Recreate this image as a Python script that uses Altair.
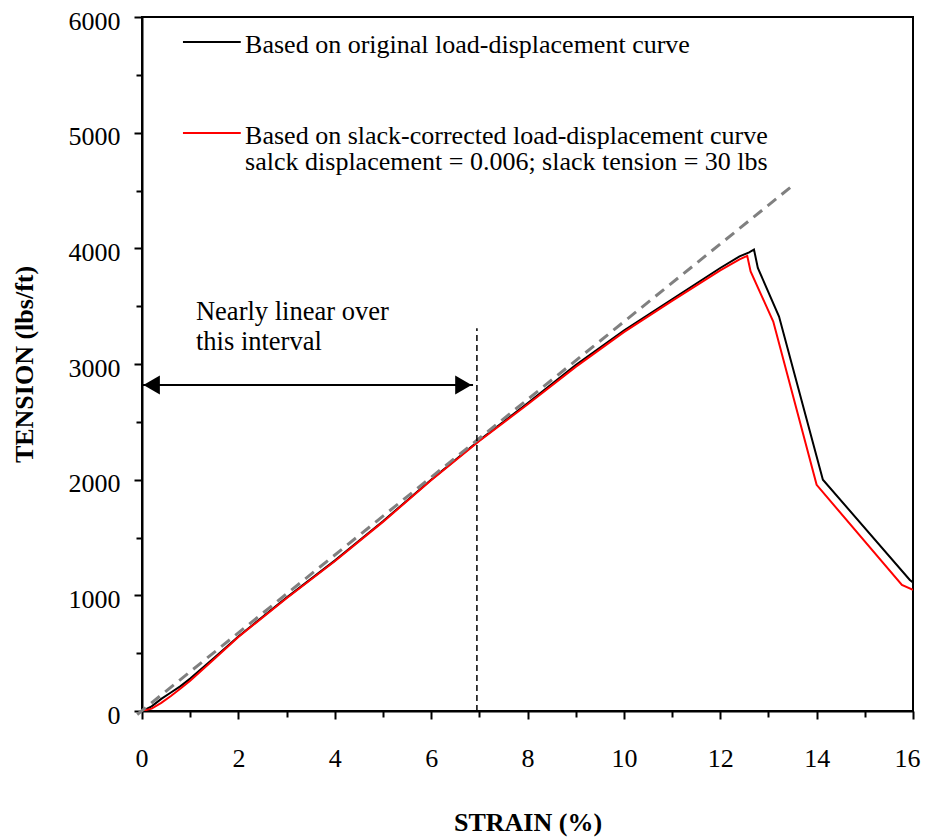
import altair as alt
import pandas as pd

# ---- data ----
orig_strain = [0, 0.2, 0.4, 0.6, 0.8, 1.0, 1.5, 2, 3, 4, 5, 6, 7, 8, 9, 10, 11, 12, 12.4, 12.6, 12.7, 12.78, 13.22, 14.13, 15.93, 16.0]
orig_tension = [0, 40, 105, 160, 215, 280, 460, 645, 980, 1300, 1640, 2000, 2340, 2660, 2990, 3290, 3560, 3830, 3930, 3965, 3990, 3830, 3410, 2000, 1135, 1110]

corr_strain = [0, 0.2, 0.4, 0.6, 0.8, 1.0, 1.5, 2, 3, 4, 5, 6, 7, 8, 9, 10, 11, 12, 12.4, 12.56, 12.63, 13.1, 14.0, 15.77, 16.0]
corr_tension = [0, 20, 70, 130, 195, 262, 450, 640, 975, 1295, 1635, 1995, 2335, 2650, 2975, 3275, 3545, 3810, 3905, 3935, 3800, 3367, 1955, 1090, 1047]

fit_strain = [-0.1, 13.45]
fit_tension = [-30, 4525]

limit_strain = [6.95, 6.95]
limit_tension = [0, 3310]

arrow_strain = [0.0, 6.87]
arrow_tension = [2818, 2818]

x_ticks = list(range(0, 17))
y_ticks = list(range(0, 6001, 500))

legend_line_x = [0.85, 2.05]
legend_rows = [
    {"label": "Based on original load-displacement curve", "y": 5758, "line_y": 5784, "color": "black"},
    {"label": "Based on slack-corrected load-displacement curve", "y": 4973, "line_y": 4997, "color": "red"},
    {"label": "salck displacement = 0.006; slack tension = 30 lbs", "y": 4744, "line_y": None, "color": None},
]
legend_text_x = 2.14

note_lines = ["Nearly linear over", "this interval"]
note_y = [3449, 3190]
note_x = 1.12

FONT = "Liberation Serif"

xs = alt.Scale(domain=[0, 16], nice=False, zero=False)
ys = alt.Scale(domain=[0, 6000], nice=False, zero=False)

xaxis = alt.Axis(
    values=x_ticks, title="STRAIN (%)",
    labelExpr="datum.value % 2 === 0 ? datum.label : ''",
    tickSize={"condition": {"test": "datum.value % 2 === 0", "value": 8}, "value": 6},
    labelPadding=26, titlePadding=38, grid=False, labelFlush=True, labelFlushOffset=7,
)
yaxis = alt.Axis(
    values=y_ticks, title="TENSION (lbs/ft)",
    labelExpr="datum.value % 1000 === 0 ? datum.label : ''",
    tickSize={"condition": {"test": "datum.value % 1000 === 0", "value": 8}, "value": 6},
    labelPadding=14, labelOffset=4, titlePadding=31, grid=False, format="d", labelFlush=False,
)

df_o = pd.DataFrame({"s": orig_strain, "t": orig_tension})
df_c = pd.DataFrame({"s": corr_strain, "t": corr_tension})
df_f = pd.DataFrame({"s": fit_strain, "t": fit_tension})
df_l = pd.DataFrame({"s": limit_strain, "t": limit_tension})
df_a = pd.DataFrame({"s": arrow_strain, "t": arrow_tension})

base_x = alt.X("s:Q", scale=xs, axis=xaxis)
base_y = alt.Y("t:Q", scale=ys, axis=yaxis)

black = alt.Chart(df_o).mark_line(color="black", strokeWidth=2, clip=True).encode(x=base_x, y=base_y, order="s:Q")
red = alt.Chart(df_c).mark_line(color="red", strokeWidth=2, clip=True).encode(x="s:Q", y="t:Q", order="s:Q")
fit = alt.Chart(df_f).mark_line(color="#808080", strokeWidth=3, strokeDash=[11, 7]).encode(x="s:Q", y="t:Q")
limit = alt.Chart(df_l).mark_line(color="black", strokeWidth=1.5, strokeDash=[6, 4]).encode(x="s:Q", y="t:Q")
arrow_line = alt.Chart(df_a).mark_line(color="black", strokeWidth=2).encode(x="s:Q", y="t:Q")

df_heads = pd.DataFrame({
    "s": [arrow_strain[0] + 0.2, arrow_strain[1] - 0.2],
    "t": arrow_tension,
    "shape": ["triangle-left", "triangle-right"],
})
heads = alt.Chart(df_heads).mark_point(filled=True, color="black", size=360, opacity=1).encode(
    x="s:Q", y="t:Q", shape=alt.Shape("shape:N", scale=None, legend=None)
)

df_note = pd.DataFrame({"s": [note_x] * len(note_lines), "t": note_y, "label": note_lines})
note = alt.Chart(df_note).mark_text(align="left", baseline="middle", font=FONT, fontSize=26.5, color="black").encode(
    x="s:Q", y="t:Q", text="label:N"
)

leg_lines = []
for r in legend_rows:
    if r["line_y"] is not None:
        leg_lines.append({"s": legend_line_x[0], "s2": legend_line_x[1], "t": r["line_y"], "color": r["color"]})
df_ll = pd.DataFrame(leg_lines)
legend_rules = alt.Chart(df_ll).mark_rule(strokeWidth=2).encode(
    x="s:Q", x2="s2:Q", y="t:Q", color=alt.Color("color:N", scale=None, legend=None)
)
df_lt = pd.DataFrame({"s": [legend_text_x] * len(legend_rows), "t": [r["y"] for r in legend_rows],
                      "label": [r["label"] for r in legend_rows]})
legend_text = alt.Chart(df_lt).mark_text(align="left", baseline="middle", font=FONT, fontSize=26, color="black").encode(
    x="s:Q", y="t:Q", text="label:N"
)

chart = alt.layer(
    black, red, fit, limit, arrow_line, heads, note, legend_rules, legend_text
).properties(
    width=771, height=694,
    autosize=alt.AutoSizeParams(type="none"),
    padding={"left": 134, "top": 9, "right": 10, "bottom": 128},
).configure_view(
    stroke="black", strokeWidth=2
).configure_axis(
    domainColor="black", domainWidth=2, tickColor="black", tickWidth=2,
    labelFont=FONT, labelFontSize=26, labelColor="black",
    titleFont=FONT, titleFontSize=26, titleFontWeight="bold", titleColor="black",
)

chart.save("out.html", embed_options={"renderer": "svg", "actions": False})
